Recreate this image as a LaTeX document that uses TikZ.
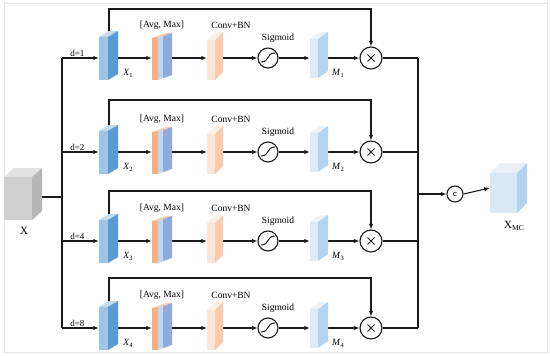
\documentclass[tikz,border=0pt]{standalone}
\usepackage{fontspec}
\setmainfont{Liberation Serif}
\usetikzlibrary{arrows.meta}
\definecolor{xfront}{HTML}{9DC3E6}
\definecolor{xside}{HTML}{5B9BD5}
\definecolor{xtop}{HTML}{C5DCF0}
\definecolor{avor}{HTML}{F4B183}
\definecolor{avtop}{HTML}{F8CBAD}
\definecolor{avlb}{HTML}{BDD7EE}
\definecolor{avdb}{HTML}{8FAADC}
\definecolor{cfront}{HTML}{FBE5D6}
\definecolor{cside}{HTML}{F8CBAD}
\definecolor{ctop}{HTML}{FDF0E7}
\definecolor{mfront}{HTML}{DEEBF7}
\definecolor{mside}{HTML}{B4D3EE}
\definecolor{mtop}{HTML}{EAF2FA}
\definecolor{gfront}{HTML}{CFCFCF}
\definecolor{gside}{HTML}{B6B6B6}
\definecolor{gtop}{HTML}{E2E2E2}
\definecolor{ofront}{HTML}{DAE8F5}
\definecolor{oside}{HTML}{B4D2EE}
\definecolor{otop}{HTML}{E8F1FA}
\definecolor{ink}{HTML}{1A1A1A}
% x0, y0, w, h, dx, dy, front, side, top
\newcommand\mycuboid[9]{%
  \fill[#9] (#1,#2) -- ++(#5,-#6) -- ++(#3,0) -- ++(-#5,#6) -- cycle;
  \fill[#8] (#1+#3,#2) -- ++(#5,-#6) -- ++(0,#4) -- ++(-#5,#6) -- cycle;
  \fill[#7] (#1,#2) rectangle ++(#3,#4);
}
\begin{document}
\begin{tikzpicture}[x=1pt,y=-1pt,
  conn/.style={draw=ink,line width=1.1pt},
  arr/.style={conn,-{Latex[length=5.5pt,width=4.5pt]}},
  blk/.style={rectangle,inner sep=0pt,minimum height=50pt},
  opnode/.style={circle,draw=ink,line width=1.1pt,inner sep=0pt,fill=white},
  lbl/.style={inner sep=0pt,font=\fontsize{9.5}{11}\selectfont},
  dlbl/.style={inner sep=1pt,font=\fontsize{9}{10}\selectfont}]
\useasboundingbox (0,0) rectangle (550,356);
\draw[black!10,line width=0.6pt] (4,3) rectangle (547,352);

% input and output cubes (anchor nodes)
\node[blk,minimum width=38pt,minimum height=52pt] (Xin) at (23,194) {};
\node[blk,minimum width=37pt,minimum height=50pt] (XMC) at (508.5,188) {};
\node[opnode,minimum size=16pt,font=\sffamily\fontsize{9}{10}\selectfont] (cat) at (455,194) {c};

\coordinate (XinOut) at (37,197);
\coordinate (J) at (62,197);
\coordinate (RJ) at (418,194);

\foreach \r/\k/\yy/\tp in {1/1/58/9, 2/2/152/100, 3/4/241/191, 4/8/328/278} {
  \coordinate (L\r) at (62,\yy);
  \coordinate (R\r) at (418,\yy);
  \coordinate (B\r) at (109,\yy);
  \coordinate (K\r) at (109,\tp);
  \node[blk,minimum width=19pt] (X\r) at (108.5,\yy) {};
  \node[blk,minimum width=20pt] (A\r) at (162,\yy) {};
  \node[blk,minimum width=16pt] (C\r) at (215,\yy) {};
  \node[opnode,minimum size=20pt] (S\r) at (268,\yy) {};
  \node[blk,minimum width=18pt] (M\r) at (319,\yy) {};
  \node[opnode,minimum size=22pt] (T\r) at (371,\yy) {};
  % connectors
  \draw[arr] (L\r) -- node[dlbl,above,pos=0.42] {d=\k} (X\r.west);
  \draw[arr] (X\r) -- (A\r.west);
  \draw[arr] (A\r) -- (C\r.west);
  \draw[arr] (C\r) -- (S\r.west);
  \draw[arr] (S\r.east) -- (M\r.west);
  \draw[arr] (M\r) -- (T\r.west);
  \draw[arr] (B\r) -- (K\r) -| (T\r.north);
  \draw[conn] (T\r.east) -- (R\r);
  % symbols inside circles
  \draw[ink,line width=1pt,shift={(S\r.center)}] (-7,4) .. controls (2,4) and (-2,-5) .. (7,-5);
  \draw[ink,line width=1pt,shift={(T\r.center)}] (-3.5,-3.5) -- (3.5,3.5) (-3.5,3.5) -- (3.5,-3.5);
  % blocks
  \mycuboid{99}{\yy-21}{9}{43}{10}{6}{xfront}{xside}{xtop}
  \fill[avtop] (152,\yy-20) -- (166,\yy-25) -- (172,\yy-25) -- (158,\yy-20) -- cycle;
  \fill[avlb] (158,\yy-20) -- (163,\yy-21.8) -- (163,\yy+20.2) -- (158,\yy+22) -- cycle;
  \fill[avdb] (163,\yy-21.8) -- (172,\yy-25) -- (172,\yy+17) -- (163,\yy+20.2) -- cycle;
  \fill[avor] (152,\yy-20) rectangle (158,\yy+22);
  \mycuboid{207}{\yy-18}{8}{40}{8}{8}{cfront}{cside}{ctop}
  \mycuboid{310}{\yy-19}{8}{39}{10}{7}{mfront}{mside}{mtop}
  % labels
  \node[lbl] (XL\r) at (128,\yy+15) {\textit{X}\raisebox{-0.45ex}{\fontsize{6.5}{7}\selectfont\r}};
  \node[lbl] (AL\r) at (162,\yy-33) {[Avg, Max]};
  \node[lbl] (CL\r) at (231,\yy-33) {Conv+BN};
  \node[lbl] (SL\r) at (278,\yy-20) {Sigmoid};
  \node[lbl] (ML\r) at (338,\yy+15) {\textit{M}\raisebox{-0.45ex}{\fontsize{6.5}{7}\selectfont\r}};
}
% trunks
\draw[conn] (L1) -- (L4);
\draw[conn] (R1) -- (R4);
\draw[conn] (XinOut) -- (J);
\draw[arr] (RJ) -- (cat.west);
\draw[arr] (cat.east) -- (XMC.west);
% cubes
\mycuboid{4}{177}{28}{43}{10}{9}{gfront}{gside}{gtop}
\mycuboid{490}{173}{27}{40}{10}{10}{ofront}{oside}{otop}
\node[lbl,font=\fontsize{11}{12}\selectfont] (XinL) at (24,231) {X};
\node[lbl,font=\fontsize{11}{12}\selectfont] (XMCL) at (514,226) {X\raisebox{-0.5ex}{\fontsize{7.5}{8}\selectfont MC}};
\end{tikzpicture}
\end{document}
